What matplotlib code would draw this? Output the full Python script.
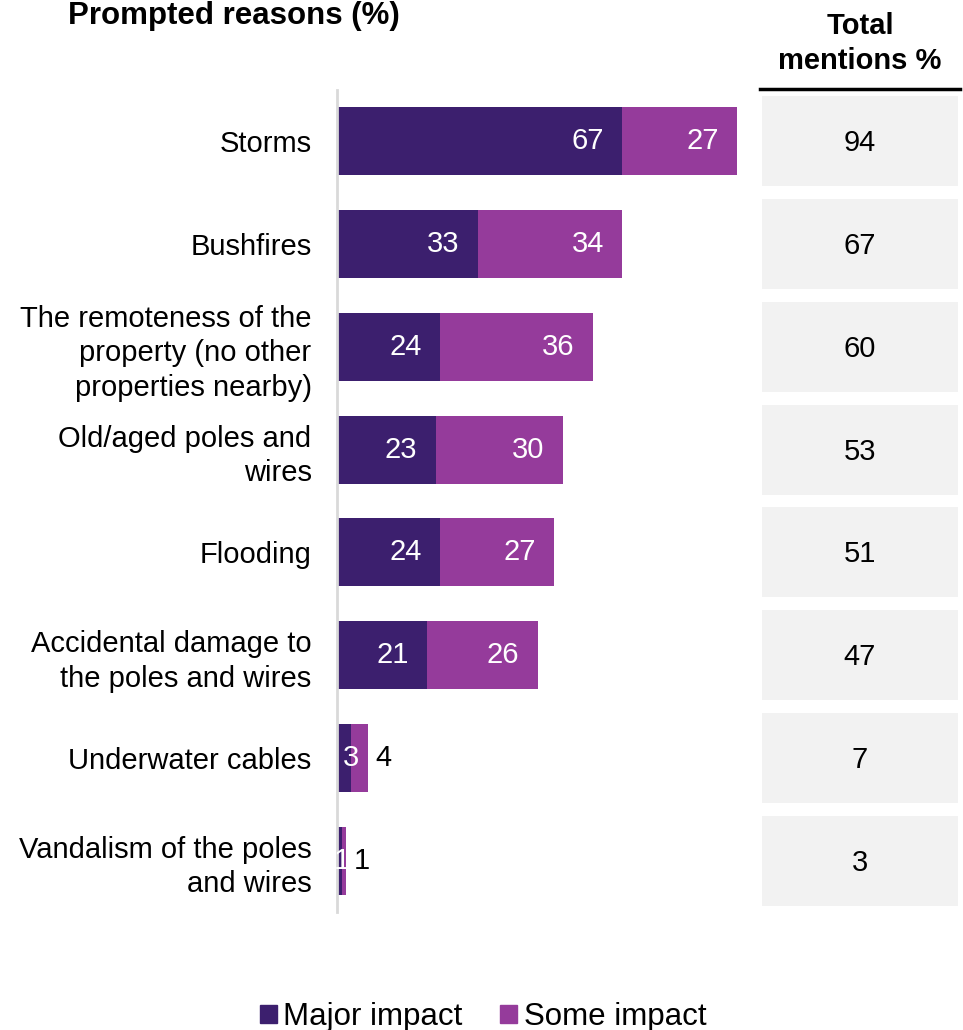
import matplotlib.pyplot as plt
import numpy as np

plt.rcParams['font.family'] = ['Liberation Sans', 'DejaVu Sans']

# data
categories = ['Storms', 'Bushfires',
              'The remoteness of the\nproperty (no other\nproperties nearby)',
              'Old/aged poles and\nwires', 'Flooding',
              'Accidental damage to\nthe poles and wires',
              'Underwater cables', 'Vandalism of the poles\nand wires']
major = [67, 33, 24, 23, 24, 21, 3, 1]
some = [27, 34, 36, 30, 27, 26, 4, 1]
totals = [94, 67, 60, 53, 51, 47, 7, 3]

MAJOR_COL = '#3c1f6e'
SOME_COL = '#953b9b'
W, H = 963, 1030
FS = 21

fig = plt.figure(figsize=(W / 100, H / 100), dpi=100)

# bar axes: x 338..762 px, y 90..912 px
ax = fig.add_axes([338 / W, 1 - 912 / H, 424.5 / W, 822 / H])
# spine position first, setting it later resets the tick labels
for s in ['top', 'right', 'bottom']:
    ax.spines[s].set_visible(False)
ax.spines['left'].set_position(('outward', 1))
ax.spines['left'].set_color('#d9d9d9')
ax.spines['left'].set_linewidth(2)

y = np.arange(len(categories))
ax.barh(y, major, height=0.66, color=MAJOR_COL, linewidth=0)
ax.barh(y, some, left=major, height=0.66, color=SOME_COL, linewidth=0)
ax.set_xlim(0, 100)
ax.set_ylim(7.5, -0.5)
ax.set_yticks(y)
ax.set_yticklabels(categories, fontsize=FS, ha='right', linespacing=1.3)
ax.tick_params(axis='y', length=0, pad=18)
ax.set_xticks([])

for i in range(len(categories)):
    m, s = major[i], some[i]
    if m >= 5:
        ax.text(m - 4.3, i, str(m), color='white', fontsize=FS, ha='right', va='center')
    else:
        ax.text(m, i, str(m), color='white', fontsize=FS, ha='center', va='center')
    if s >= 5:
        ax.text(m + s - 4.3, i, str(s), color='white', fontsize=FS, ha='right', va='center')
    else:
        ax.text(m + s + 1.8, i, str(s), color='black', fontsize=FS, ha='left', va='center')

fig.text(234 / W, 1 - 1 / H, 'Prompted reasons (%)', fontsize=22.5, fontweight='bold',
         ha='center', va='top')

# total mentions column
tax = fig.add_axes([762 / W, 1 - 912 / H, 196 / W, 822 / H], sharey=ax)
tax.barh(y, [1] * len(totals), height=0.876, color='#f2f2f2')
for i, t in enumerate(totals):
    tax.text(0.5, i + 0.02, str(t), fontsize=FS, ha='center', va='center')
tax.set_xlim(0, 1)
tax.axis('off')
tax.plot([-0.01, 1.01], [-0.51, -0.51], color='black', linewidth=2.5, clip_on=False)
fig.text(860 / W, 1 - 75 / H, 'Total\nmentions %', fontsize=FS, fontweight='bold',
         ha='center', va='bottom', linespacing=1.3)

# legend
handles = [plt.Rectangle((0, 0), 1, 1, color=MAJOR_COL),
           plt.Rectangle((0, 0), 1, 1, color=SOME_COL)]
fig.legend(handles, ['Major impact', 'Some impact'], loc='center',
           bbox_to_anchor=(483 / W, 1 - 1017 / H), ncol=2, frameon=False,
           fontsize=22.5, handlelength=0.55, handleheight=0.55, handletextpad=0.2,
           columnspacing=1.2, borderpad=0.1)

fig.savefig('out.png', dpi=100)
